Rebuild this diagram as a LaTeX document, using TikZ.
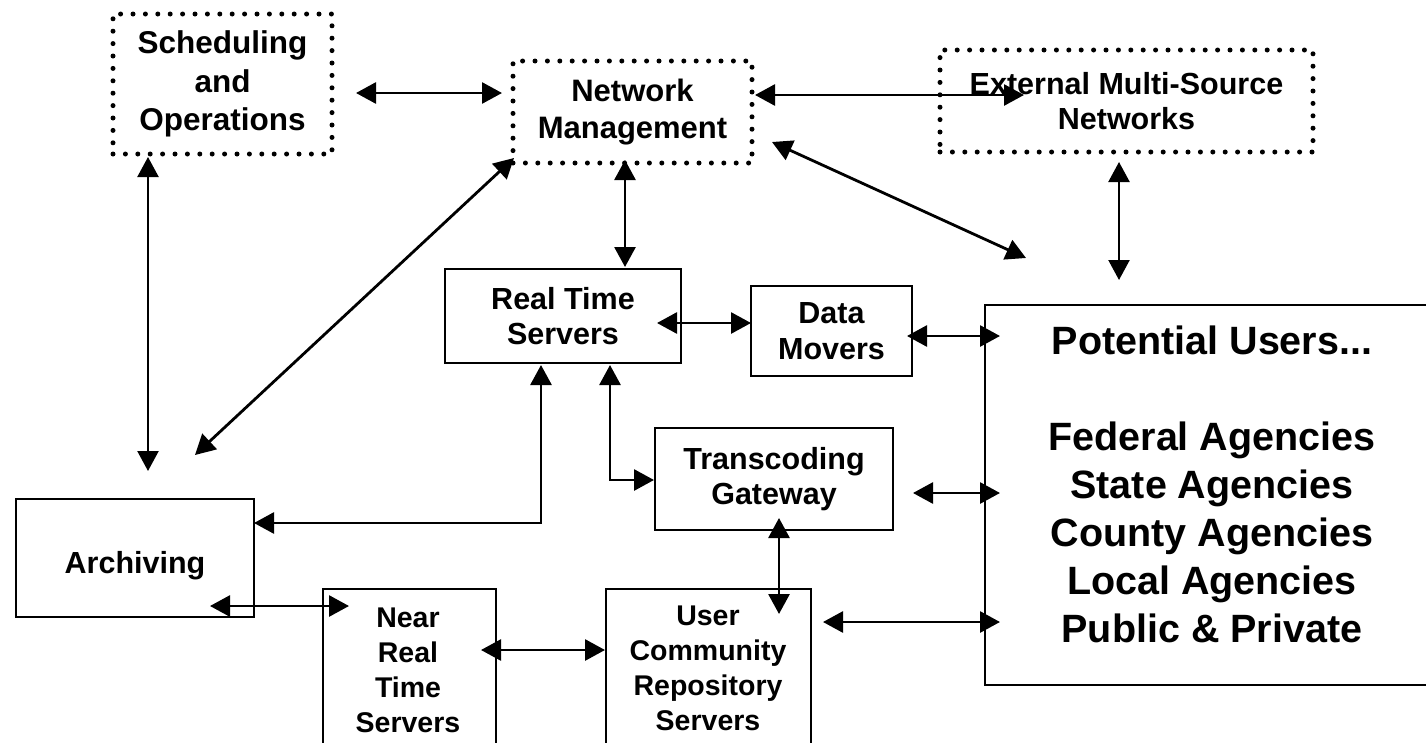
\documentclass[tikz,border=0pt]{standalone}
\usepackage{fontspec}
\setmainfont{Liberation Sans}
\usetikzlibrary{arrows.meta,calc}
\newcommand\lblfont{\bfseries\fontsize{30.5}{35.5}\selectfont}
\newcommand\schedfont{\bfseries\fontsize{31.5}{38.5}\selectfont}
\newcommand\nmfont{\bfseries\fontsize{31}{37}\selectfont}
\newcommand\lowfont{\bfseries\fontsize{28.5}{35}\selectfont}
\newcommand\bigfont{\bfseries\fontsize{39.5}{48}\selectfont}
\begin{document}
\begin{tikzpicture}[x=1pt,y=-1pt,
  dotbox/.style={draw, line width=5pt, dash pattern=on 0pt off 12.4pt, line cap=round,
    inner sep=0pt, outer sep=0pt, align=center, font=\lblfont},
  solidbox/.style={draw, line width=2.6pt, inner sep=0pt, outer sep=0pt, align=center, font=\lblfont},
  lbl/.style={inner sep=0pt, outer sep=0pt, align=center, font=\lblfont},
  biarr/.style={line width=2.8pt, {Triangle[length=20pt,width=21pt]}-{Triangle[length=20pt,width=21pt]}},
  thinarr/.style={biarr, line width=2.3pt},
]
\useasboundingbox (0,0) rectangle (1426,742);
\fill[white] (0,0) rectangle (1426,742);
\begin{scope}
\clip (0,0) rectangle (1426,742);
% boxes
\node[dotbox, font=\schedfont, minimum width=219, minimum height=140] (sched) at (222.5,84) {Scheduling\\and\\Operations};
\node[dotbox, font=\nmfont, minimum width=239, minimum height=102] (nm) at (632.5,112) {Network\\Management};
\node[dotbox, minimum width=373, minimum height=102] (ext) at (1126.5,101) {External Multi-Source\\Networks};
\node[solidbox, minimum width=236, minimum height=94] (rts) at (563,316) {Real Time\\Servers};
\node[solidbox, minimum width=161, minimum height=90] (dm) at (831.5,331) {Data\\Movers};
\node[solidbox, minimum width=238, minimum height=102] (tg) at (774,479) {Transcoding\\Gateway};
\node[solidbox, minimum width=238, minimum height=118] (arch) at (135,558) {};
\node[lbl, anchor=base] (archtxt) at (135,573) {Archiving};
\node[solidbox, minimum width=173, minimum height=171] (nrt) at (409.5,674.5) {};
\node[lbl, font=\lowfont] (nrttxt) at (408,670) {Near\\Real\\Time\\Servers};
\node[solidbox, minimum width=205, minimum height=171] (ucr) at (708.5,674.5) {};
\node[lbl, font=\lowfont] (ucrtxt) at (708,668) {User\\Community\\Repository\\Servers};
\node[solidbox, minimum width=455, minimum height=380] (pu) at (1212.5,495) {};
\node[lbl, font=\bigfont] (putxt) at (1212,484.5) {Potential Users...\\[48pt]Federal Agencies\\State Agencies\\County Agencies\\Local Agencies\\Public \& Private};
% connectors
\draw[biarr] ($(sched.east)+(24,9)$) -- ($(nm.west)+(-11,-19)$);
\draw[biarr] ($(nm.east)+(3,-17)$) -- ($(ext.west)+(84,-6)$);
\draw[biarr] ($(nm.east)+(20,30)$) -- ($(pu.north west)+(41,-47)$);
\draw[thinarr] ($(ext.south)+(-7.5,10)$) -- ($(pu.north west)+(134,-25)$);
\draw[biarr] ($(nm.south)+(-7.5,-3)$) -- ($(rts.north)+(62,-2)$);
\draw[thinarr] ($(sched.south west)+(35,3)$) -- ($(arch.north west)+(132,-28)$);
\draw[biarr] ($(nm.south west)+(1,-5)$) -- ($(arch.north west)+(179,-44)$);
\draw[biarr] ($(rts.east)+(-24,7)$) -- ($(dm.west)+(0,-8)$);
\draw[biarr] ($(dm.east)+(-5,5)$) -- ($(pu.north west)+(15,31)$);
\draw[biarr] ($(rts.south)+(-22,2)$) |- ($(arch.east)+(0,-35)$);
\draw[biarr] ($(rts.south)+(47,2)$) |- ($(tg.west)+(-1,1)$);
\draw[biarr] ($(tg.east)+(20,14)$) -- ($(pu.north west)+(15,188)$);
\draw[biarr] ($(tg.south)+(5,-12)$) -- ($(ucr.north)+(70.5,25)$);
\draw[biarr] ($(arch.south east)+(-44,-11)$) -- ($(nrt.north west)+(26,17)$);
\draw[biarr] ($(nrt.north east)+(-15,61)$) -- ($(ucr.north west)+(-1,61)$);
\draw[biarr] ($(ucr.north east)+(12,33)$) -- ($(pu.north west)+(15,317)$);
\end{scope}
\end{tikzpicture}
\end{document}
